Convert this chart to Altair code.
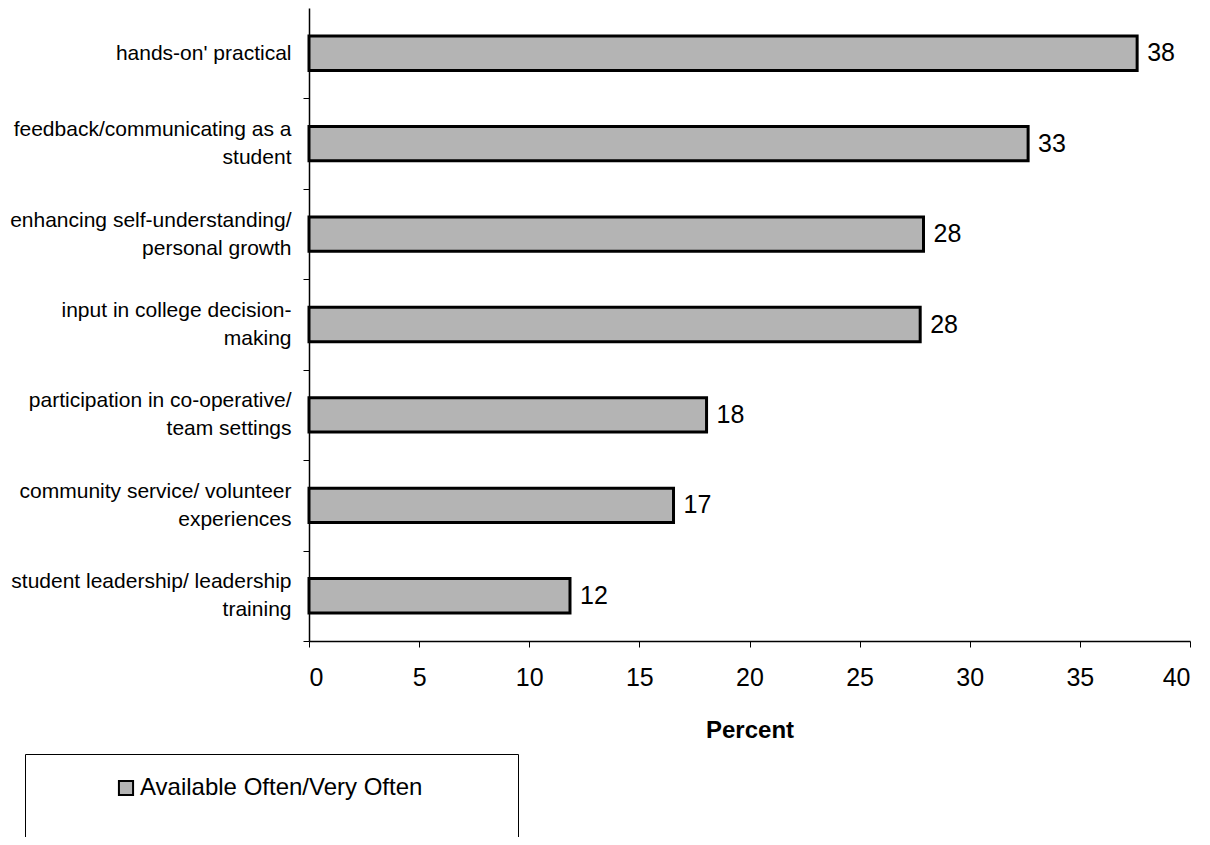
import altair as alt
import pandas as pd

FONT = "Liberation Sans"

categories = [
    "hands-on' practical",
    "feedback/communicating as a\nstudent",
    "enhancing self-understanding/\npersonal growth",
    "input in college decision-\nmaking",
    "participation in co-operative/\nteam settings",
    "community service/ volunteer\nexperiences",
    "student leadership/ leadership\ntraining",
]
values = [37.6, 32.65, 27.9, 27.75, 18.05, 16.55, 11.85]
value_labels = ["38", "33", "28", "28", "18", "17", "12"]
series_name = "Available Often/Very Often"
x_ticks = [0, 5, 10, 15, 20, 25, 30, 35, 40]

df = pd.DataFrame({
    "category": categories,
    "value": values,
    "label": value_labels,
    "series": [series_name] * len(categories),
})

NBSP = "\u00a0"
ZWSP = "\u200b"

y_enc = alt.Y(
    "category:N",
    sort=None,
    title=None,
    scale=alt.Scale(paddingInner=0.62, paddingOuter=0.31),
    axis=alt.Axis(
        labelExpr="indexof(datum.label, '\\n') >= 0 ? "
                  "[split(datum.label, '\\n')[0], '" + ZWSP + "', split(datum.label, '\\n')[1]] : ['" + ZWSP + "', datum.label]",
        labelOffset=-59.2,
        labelLineHeight=14,
        ticks=True,
        tickOffset=45.2,
        labelFont=FONT,
        labelFontSize=21,
        labelPadding=12,
        labelLimit=400,
        labelColor="black",
        tickSize=6,
        tickColor="black",
        domainColor="black",
        domainWidth=1.5,
        grid=False,
    ),
)

x_enc = alt.X(
    "value:Q",
    title="Percent",
    scale=alt.Scale(domain=[0, 40], nice=False),
    axis=alt.Axis(
        values=x_ticks,
        labelFont=FONT,
        labelFontSize=25,
        labelColor="black",
        labelPadding=18,
        tickSize=6,
        tickColor="black",
        domainColor="black",
        domainWidth=1.5,
        grid=False,
        titleFont=FONT,
        titleFontSize=24,
        titleFontWeight="bold",
        titleColor="black",
        titlePadding=28,
    ),
)

bars = alt.Chart(df).mark_bar(stroke="black", strokeWidth=3).encode(
    x=x_enc,
    y=y_enc,
    color=alt.Color(
        "series:N",
        scale=alt.Scale(range=["#b4b4b4"]),
        legend=alt.Legend(
            title=" ",
            titleOrient="bottom",
            titlePadding=60,
            titleFontSize=20,
            orient="none",
            legendX=-284,
            legendY=746,
            padding=22,
            strokeColor="black",
            fillColor="white",
            symbolType="square",
            symbolSize=200,
            symbolOffset=67,
            symbolStrokeColor="black",
            symbolStrokeWidth=2,
            labelOffset=2,
            labelFont=FONT,
            labelFontSize=24,
            labelColor="black",
            labelLimit=600,
            labelExpr="datum.label + '" + NBSP * 11 + ZWSP + "'",
        ),
    ),
)

text = alt.Chart(df).mark_text(
    align="left", baseline="middle", dx=10, font=FONT, fontSize=25, color="black"
).encode(
    x=alt.X("value:Q"),
    y=alt.Y("category:N", sort=None),
    text="label:N",
)

chart = (
    alt.layer(bars, text)
    .properties(
        width=881,
        height=633,
        autosize=alt.AutoSizeParams(type="none"),
        padding={"left": 301, "top": 0, "right": 12, "bottom": 196},
        background="white",
    )
    .configure_view(stroke=None)
)

chart.save("out.html", embed_options={"renderer": "svg", "actions": False})
